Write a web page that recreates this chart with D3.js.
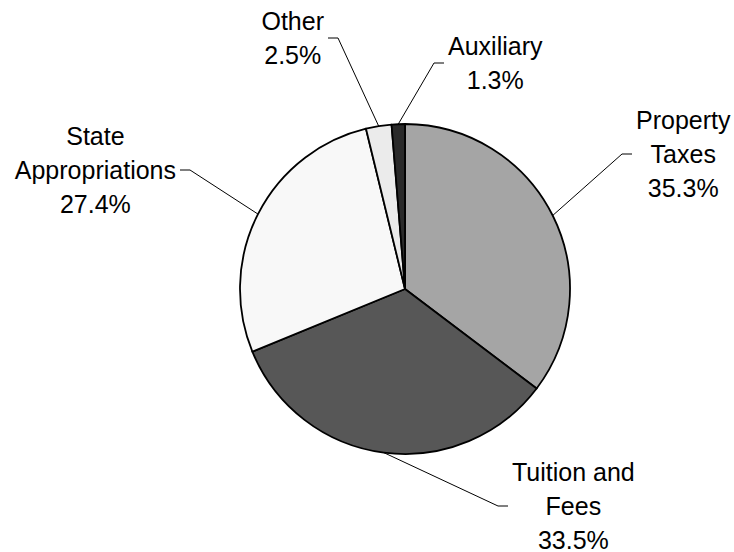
<!DOCTYPE html>
<html>
<head>
<meta charset="utf-8">
<script src="https://cdn.jsdelivr.net/npm/d3@7"></script>
<style>
  html, body { margin: 0; padding: 0; background: #fff; }
  svg { display: block; font-family: "Liberation Sans", Arial, sans-serif; }
</style>
</head>
<body>
<div id="chart"></div>
<script>
// Revenue sources (share in %), clockwise from 12 o'clock
const categories = ["Property Taxes", "Tuition and Fees", "State Appropriations", "Other", "Auxiliary"];
const values = [35.3, 33.5, 27.4, 2.5, 1.3];
const labelLines = [["Property", "Taxes"], ["Tuition and", "Fees"], ["State", "Appropriations"], ["Other"], ["Auxiliary"]];
const fills = ["#a5a5a5", "#575757", "#f8f8f8", "#ebebeb", "#2a2a2a"];

const width = 734, height = 552;
const cx = 405, cy = 289, radius = 165;

// leader elbow (relative to centre) and which side the text sits on
const leaders = {
    "Property Taxes":       { elbow: [217, -135], side: 1 },
    "Tuition and Fees":     { elbow: [93, 217], side: 1 },
    "State Appropriations": { elbow: [-215, -119], side: -1 },
    "Other":                { elbow: [-67, -251], side: -1 },
    "Auxiliary":            { elbow: [29, -226], side: 1 }
};

const data = categories.map((c, i) => ({
    name: c, value: values[i], lines: labelLines[i], fill: fills[i]
}));

const svg = d3.select("#chart").append("svg")
    .attr("width", width)
    .attr("height", height);

const g = svg.append("g").attr("transform", `translate(${cx},${cy})`);

const pie = d3.pie().sort(null).value(d => d.value);
const arcs = pie(data);

const arc = d3.arc().innerRadius(0).outerRadius(radius);

g.selectAll("path.slice")
    .data(arcs)
    .enter()
    .append("path")
    .attr("class", "slice")
    .attr("d", arc)
    .attr("fill", d => d.data.fill)
    .attr("stroke", "#000")
    .attr("stroke-width", 1.8)
    .attr("stroke-linejoin", "round");

// leader lines: edge of slice -> elbow -> short horizontal tick
const fontSize = 25, lineH = 34, tick = 10, gap = 4;

arcs.forEach(d => {
    const mid = (d.startAngle + d.endAngle) / 2;
    const sx = radius * Math.sin(mid), sy = -radius * Math.cos(mid);
    const L = leaders[d.data.name];
    const [ex, ey] = L.elbow;
    const tx = ex + L.side * tick;

    g.append("path")
        .attr("d", d3.line()([[sx, sy], [ex, ey], [tx, ey]]))
        .attr("fill", "none")
        .attr("stroke", "#000")
        .attr("stroke-width", 1);

    const lines = d.data.lines.concat([d.data.value.toFixed(1) + "%"]);
    const text = g.append("text")
        .attr("font-size", fontSize)
        .attr("fill", "#000")
        .attr("text-anchor", "middle");

    lines.forEach((t, i) => {
        text.append("tspan")
            .attr("x", 0)
            .attr("y", (i - (lines.length - 1) / 2) * lineH)
            .attr("dy", "0.35em")
            .text(t);
    });

    // widest line decides how far the block centre sits from the tick
    let w = 0;
    text.selectAll("tspan").each(function () {
        w = Math.max(w, this.getComputedTextLength());
    });
    const centerX = tx + L.side * (gap + w / 2);
    text.attr("transform", `translate(${centerX},${ey})`);
    text.selectAll("tspan").attr("x", 0);
});
</script>
</body>
</html>
